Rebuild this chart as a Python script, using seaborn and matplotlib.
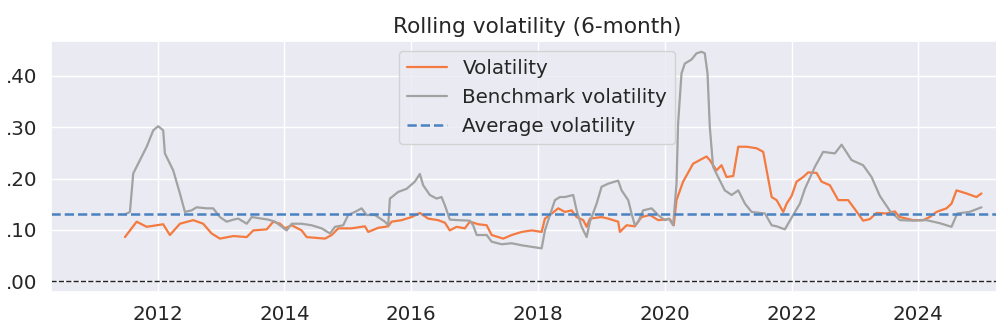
import numpy as np
import pandas as pd
import matplotlib
matplotlib.use("Agg")
import matplotlib.pyplot as plt
import matplotlib.dates as mdates
from matplotlib.ticker import FuncFormatter
import seaborn as sns

# ---- data (decimal years) ----
VOL_T = [2011.484, 2011.669, 2011.827, 2012.088, 2012.194, 2012.352, 2012.562, 2012.719,
         2012.852, 2012.983, 2013.192, 2013.404, 2013.508, 2013.719, 2013.823, 2013.929,
         2014.008, 2014.114, 2014.271, 2014.350, 2014.639, 2014.744, 2014.849, 2015.060,
         2015.270, 2015.322, 2015.479, 2015.637, 2015.691, 2015.849, 2016.006, 2016.137,
         2016.268, 2016.426, 2016.532, 2016.610, 2016.716, 2016.847, 2016.926, 2017.057,
         2017.189, 2017.268, 2017.451, 2017.584, 2017.741, 2017.899, 2018.057, 2018.109,
         2018.188, 2018.319, 2018.424, 2018.530, 2018.609, 2018.713, 2018.767, 2018.819,
         2019.003, 2019.107, 2019.265, 2019.292, 2019.397, 2019.528, 2019.634, 2019.765,
         2019.896, 2020.080, 2020.143, 2020.186, 2020.290, 2020.448, 2020.553, 2020.659,
         2020.711, 2020.817, 2020.896, 2020.975, 2021.079, 2021.158, 2021.290, 2021.448,
         2021.552, 2021.606, 2021.685, 2021.763, 2021.868, 2021.921, 2022.000, 2022.079,
         2022.183, 2022.262, 2022.394, 2022.473, 2022.604, 2022.735, 2022.893, 2023.025,
         2023.129, 2023.235, 2023.341, 2023.498, 2023.629, 2023.708, 2023.814, 2023.918,
         2024.076, 2024.181, 2024.287, 2024.445, 2024.524, 2024.603, 2024.760, 2024.918,
         2024.997]
VOL = [0.086, 0.116, 0.106, 0.111, 0.090, 0.112, 0.119, 0.112,
       0.093, 0.083, 0.088, 0.086, 0.099, 0.101, 0.116, 0.112,
       0.103, 0.109, 0.099, 0.086, 0.083, 0.090, 0.103, 0.103,
       0.107, 0.096, 0.104, 0.107, 0.116, 0.119, 0.125, 0.133,
       0.122, 0.119, 0.114, 0.099, 0.106, 0.103, 0.116, 0.111,
       0.109, 0.090, 0.083, 0.090, 0.096, 0.099, 0.096, 0.122,
       0.129, 0.142, 0.135, 0.138, 0.125, 0.119, 0.106, 0.122,
       0.125, 0.122, 0.116, 0.096, 0.109, 0.107, 0.125, 0.129,
       0.119, 0.121, 0.109, 0.158, 0.194, 0.229, 0.236, 0.243,
       0.236, 0.216, 0.226, 0.203, 0.205, 0.262, 0.262, 0.259,
       0.252, 0.216, 0.164, 0.158, 0.135, 0.151, 0.166, 0.194,
       0.203, 0.212, 0.211, 0.194, 0.187, 0.158, 0.158, 0.136,
       0.118, 0.121, 0.133, 0.132, 0.136, 0.125, 0.122, 0.119,
       0.119, 0.125, 0.135, 0.142, 0.151, 0.177, 0.171, 0.164,
       0.171]

BENCH_T = [2011.484, 2011.563, 2011.615, 2011.721, 2011.827, 2011.931, 2012.009, 2012.088,
           2012.115, 2012.246, 2012.352, 2012.431, 2012.536, 2012.615, 2012.773, 2012.877,
           2012.983, 2013.088, 2013.192, 2013.271, 2013.404, 2013.483, 2013.744, 2013.850,
           2014.035, 2014.114, 2014.271, 2014.429, 2014.587, 2014.718, 2014.797, 2014.927,
           2015.006, 2015.112, 2015.218, 2015.297, 2015.427, 2015.585, 2015.637, 2015.664,
           2015.795, 2015.927, 2016.058, 2016.137, 2016.189, 2016.295, 2016.401, 2016.479,
           2016.532, 2016.610, 2016.741, 2016.926, 2016.978, 2017.032, 2017.189, 2017.268,
           2017.426, 2017.584, 2017.741, 2017.899, 2018.057, 2018.109, 2018.188, 2018.267,
           2018.346, 2018.424, 2018.555, 2018.609, 2018.688, 2018.767, 2018.819, 2018.924,
           2019.003, 2019.107, 2019.265, 2019.319, 2019.423, 2019.476, 2019.528, 2019.581,
           2019.659, 2019.792, 2019.896, 2020.000, 2020.065, 2020.133, 2020.186, 2020.211,
           2020.265, 2020.317, 2020.423, 2020.502, 2020.580, 2020.632, 2020.675, 2020.711,
           2020.763, 2020.842, 2020.948, 2021.054, 2021.158, 2021.264, 2021.369, 2021.579,
           2021.685, 2021.763, 2021.893, 2022.025, 2022.131, 2022.210, 2022.368, 2022.498,
           2022.683, 2022.789, 2022.946, 2023.129, 2023.262, 2023.394, 2023.552, 2023.708,
           2023.918, 2024.129, 2024.341, 2024.524, 2024.615, 2024.807, 2024.997]
BENCH = [0.130, 0.135, 0.210, 0.236, 0.262, 0.294, 0.302, 0.294,
         0.249, 0.216, 0.171, 0.135, 0.138, 0.144, 0.142, 0.142,
         0.125, 0.116, 0.120, 0.122, 0.112, 0.125, 0.120, 0.116,
         0.099, 0.112, 0.112, 0.109, 0.103, 0.093, 0.106, 0.109,
         0.129, 0.135, 0.142, 0.129, 0.129, 0.116, 0.109, 0.161,
         0.174, 0.180, 0.194, 0.209, 0.187, 0.168, 0.161, 0.164,
         0.148, 0.120, 0.119, 0.118, 0.109, 0.090, 0.090, 0.077,
         0.072, 0.074, 0.070, 0.067, 0.064, 0.099, 0.129, 0.158,
         0.164, 0.164, 0.168, 0.138, 0.106, 0.086, 0.116, 0.151,
         0.184, 0.190, 0.196, 0.177, 0.158, 0.132, 0.109, 0.116,
         0.138, 0.142, 0.129, 0.119, 0.122, 0.109, 0.190, 0.307,
         0.405, 0.424, 0.432, 0.444, 0.447, 0.444, 0.405, 0.301,
         0.223, 0.203, 0.177, 0.168, 0.177, 0.151, 0.135, 0.132,
         0.109, 0.107, 0.101, 0.129, 0.151, 0.180, 0.223, 0.252,
         0.249, 0.266, 0.236, 0.226, 0.203, 0.166, 0.137, 0.119,
         0.118, 0.119, 0.113, 0.106, 0.132, 0.135, 0.144]

AVG_VOL = 0.13
TITLE = "Rolling volatility (6-month)"
LABELS = ["Volatility", "Benchmark volatility", "Average volatility"]
Y_TICKS = [0.0, 0.1, 0.2, 0.3, 0.4]
X_LIM = (2010.317, 2025.65)


def to_dt(vals):
    out = []
    for v in vals:
        yr = int(np.floor(v))
        out.append(pd.Timestamp(yr, 1, 1) + pd.Timedelta(days=(v - yr) * 365.25))
    return pd.to_datetime(out)


vol_df = pd.DataFrame({"date": to_dt(VOL_T), "value": VOL})
bench_df = pd.DataFrame({"date": to_dt(BENCH_T), "value": BENCH})

sns.set_theme(style="darkgrid", font_scale=1.3)

fig = plt.figure(figsize=(9.96, 3.25), dpi=100)
ax = fig.add_axes([51 / 996, 33 / 325, (1023 - 51) / 996, (292 - 41) / 325])

sns.lineplot(data=vol_df, x="date", y="value", ax=ax, color="#f47a3f",
             linewidth=1.6, label=LABELS[0])
sns.lineplot(data=bench_df, x="date", y="value", ax=ax, color="#a2a2a2",
             linewidth=1.6, label=LABELS[1])
ax.axhline(AVG_VOL, color="#4a82c0", linestyle="--", linewidth=1.8, label=LABELS[2])
ax.axhline(0.0, color="#222222", linestyle="--", linewidth=1.0)

xl = to_dt(list(X_LIM))
ax.set_xlim(xl[0], xl[1])
ax.set_ylim(-0.021, 0.468)
ax.set_yticks(Y_TICKS)
ax.yaxis.set_major_formatter(FuncFormatter(lambda v, p: f"{v:.2f}".lstrip("0") if v >= 0 else f"{v:.2f}"))
ax.xaxis.set_major_locator(mdates.YearLocator(2))
ax.xaxis.set_major_formatter(mdates.DateFormatter("%Y"))
ax.set_xlabel("")
ax.set_ylabel("")
ax.set_title(TITLE)
ax.legend(loc="upper center")

fig.savefig("out.png", dpi=100)
